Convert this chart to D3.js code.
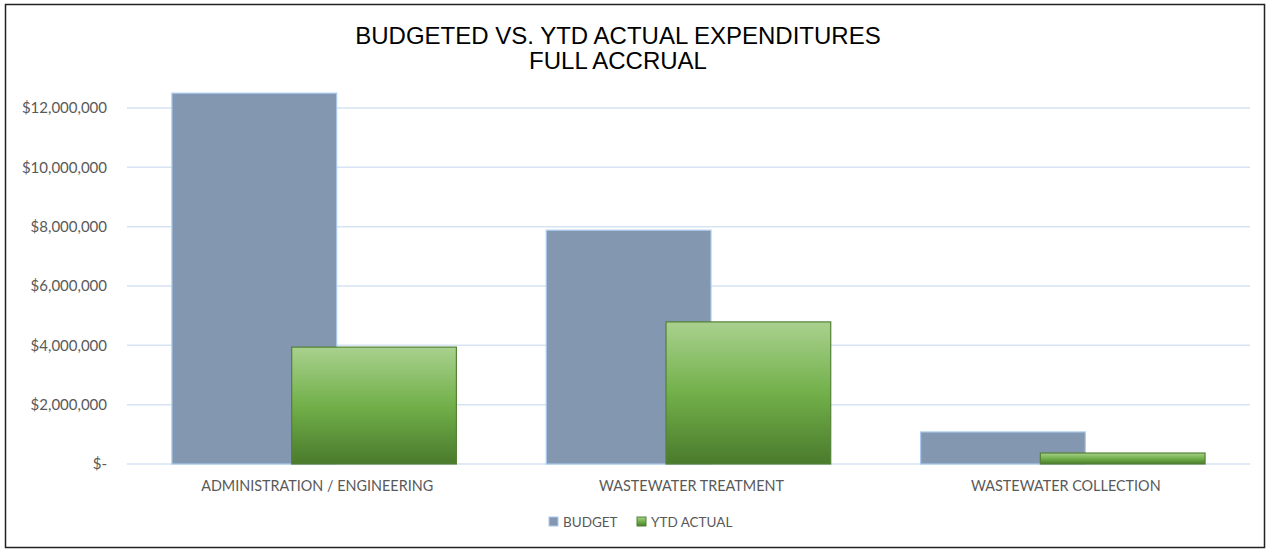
<!DOCTYPE html>
<html>
  <head>
    <title>Budgeted vs. YTD Actual Expenditures</title>
    <script src="https://d3js.org/d3.v7.min.js"></script>
    <style>
        body { margin: 0; background: #fff; }
        .tick-label { font: 15px Lato, sans-serif; fill: #595959; }
        .cat-label { font: 14.4px Lato, sans-serif; fill: #595959; text-anchor: middle; }
        .title { font: 24px "Liberation Sans", Arial, sans-serif; fill: #000; text-anchor: middle; }
        .legend text { font: 13.5px Lato, sans-serif; fill: #595959; }
        .grid line { stroke: #d5e3f3; stroke-width: 1.5px; }
    </style>
  </head>
  <body>
    <svg width="1267" height="550"></svg>
    <script>
        // chart data
        const categories = ["ADMINISTRATION / ENGINEERING", "WASTEWATER TREATMENT", "WASTEWATER COLLECTION"];
        const seriesNames = ["BUDGET", "YTD ACTUAL"];
        const budget = [12500000, 7880000, 1080000];
        const ytdActual = [3940000, 4790000, 370000];
        const yTicks = [0, 2000000, 4000000, 6000000, 8000000, 10000000, 12000000];

        const svg = d3.select("svg");

        // outer frame
        svg.append("rect")
            .attr("x", 5.5).attr("y", 4.5)
            .attr("width", 1259).attr("height", 543)
            .attr("fill", "none")
            .attr("stroke", "#222")
            .attr("stroke-width", 1.5);

        const plot = {left: 127, right: 1250, top: 108, bottom: 464};

        const x0 = d3.scaleBand()
            .domain(categories)
            .range([plot.left, plot.right]);

        // bars overlap a little inside each group
        const barW = x0.bandwidth() * 0.44;
        const step = barW * 0.727;
        const groupW = barW + step;
        const x1 = d3.scalePoint()
            .domain(seriesNames)
            .range([0, step]);

        const y = d3.scaleLinear()
            .domain([0, 12000000])
            .range([plot.bottom, plot.top]);

        // gridlines
        svg.append("g")
            .attr("class", "grid")
            .selectAll("line")
            .data(yTicks)
            .enter().append("line")
            .attr("x1", plot.left).attr("x2", plot.right)
            .attr("y1", d => y(d)).attr("y2", d => y(d));

        // y axis labels
        const fmt = d3.format(",");
        svg.append("g")
            .selectAll("text")
            .data(yTicks)
            .enter().append("text")
            .attr("class", "tick-label")
            .attr("x", 107)
            .attr("y", d => y(d))
            .attr("dy", "0.35em")
            .attr("text-anchor", "end")
            .text(d => d === 0 ? "$-" : "$" + fmt(d));

        // gradient for actual bars
        const defs = svg.append("defs");
        const grad = defs.append("linearGradient")
            .attr("id", "greenGrad")
            .attr("x1", 0).attr("y1", 0).attr("x2", 0).attr("y2", 1);
        grad.append("stop").attr("offset", "0%").attr("stop-color", "#a9d18e");
        grad.append("stop").attr("offset", "50%").attr("stop-color", "#72b04a");
        grad.append("stop").attr("offset", "100%").attr("stop-color", "#4a7a2c");

        const barX = (c, s) => x0(c) + (x0.bandwidth() - groupW) / 2 + x1(s);

        // budget bars
        svg.append("g")
            .selectAll("rect")
            .data(categories)
            .enter().append("rect")
            .attr("x", (c) => barX(c, "BUDGET"))
            .attr("y", (c, i) => y(budget[i]))
            .attr("width", barW)
            .attr("height", (c, i) => y(0) - y(budget[i]))
            .attr("fill", "#8497b0")
            .attr("stroke", "#a9c9ec")
            .attr("stroke-width", 1.2);

        // actual bars
        svg.append("g")
            .selectAll("rect")
            .data(categories)
            .enter().append("rect")
            .attr("x", (c) => barX(c, "YTD ACTUAL"))
            .attr("y", (c, i) => y(ytdActual[i]))
            .attr("width", barW)
            .attr("height", (c, i) => y(0) - y(ytdActual[i]))
            .attr("fill", "url(#greenGrad)")
            .attr("stroke", "#538135")
            .attr("stroke-width", 1.2);

        // category labels
        svg.append("g")
            .selectAll("text")
            .data(categories)
            .enter().append("text")
            .attr("class", "cat-label")
            .attr("x", c => x0(c) + x0.bandwidth() / 2 + 3)
            .attr("y", 491)
            .text(c => c);

        // title
        svg.append("text")
            .attr("class", "title")
            .attr("x", 618).attr("y", 44)
            .text("BUDGETED VS. YTD ACTUAL EXPENDITURES");
        svg.append("text")
            .attr("class", "title")
            .attr("x", 618).attr("y", 69)
            .text("FULL ACCRUAL");

        // legend
        const legendItems = [
            {name: seriesNames[0], fill: "#8497b0", stroke: "#a9c9ec", x: 549},
            {name: seriesNames[1], fill: "url(#greenGrad)", stroke: "#538135", x: 637}
        ];
        const legend = svg.append("g").attr("class", "legend");
        const li = legend.selectAll("g")
            .data(legendItems)
            .enter().append("g")
            .attr("transform", d => `translate(${d.x}, 517)`);
        li.append("rect")
            .attr("width", 9).attr("height", 9)
            .attr("fill", d => d.fill)
            .attr("stroke", d => d.stroke);
        li.append("text")
            .attr("x", 14).attr("y", 5)
            .attr("dy", "0.35em")
            .text(d => d.name);
    </script>
  </body>
</html>
